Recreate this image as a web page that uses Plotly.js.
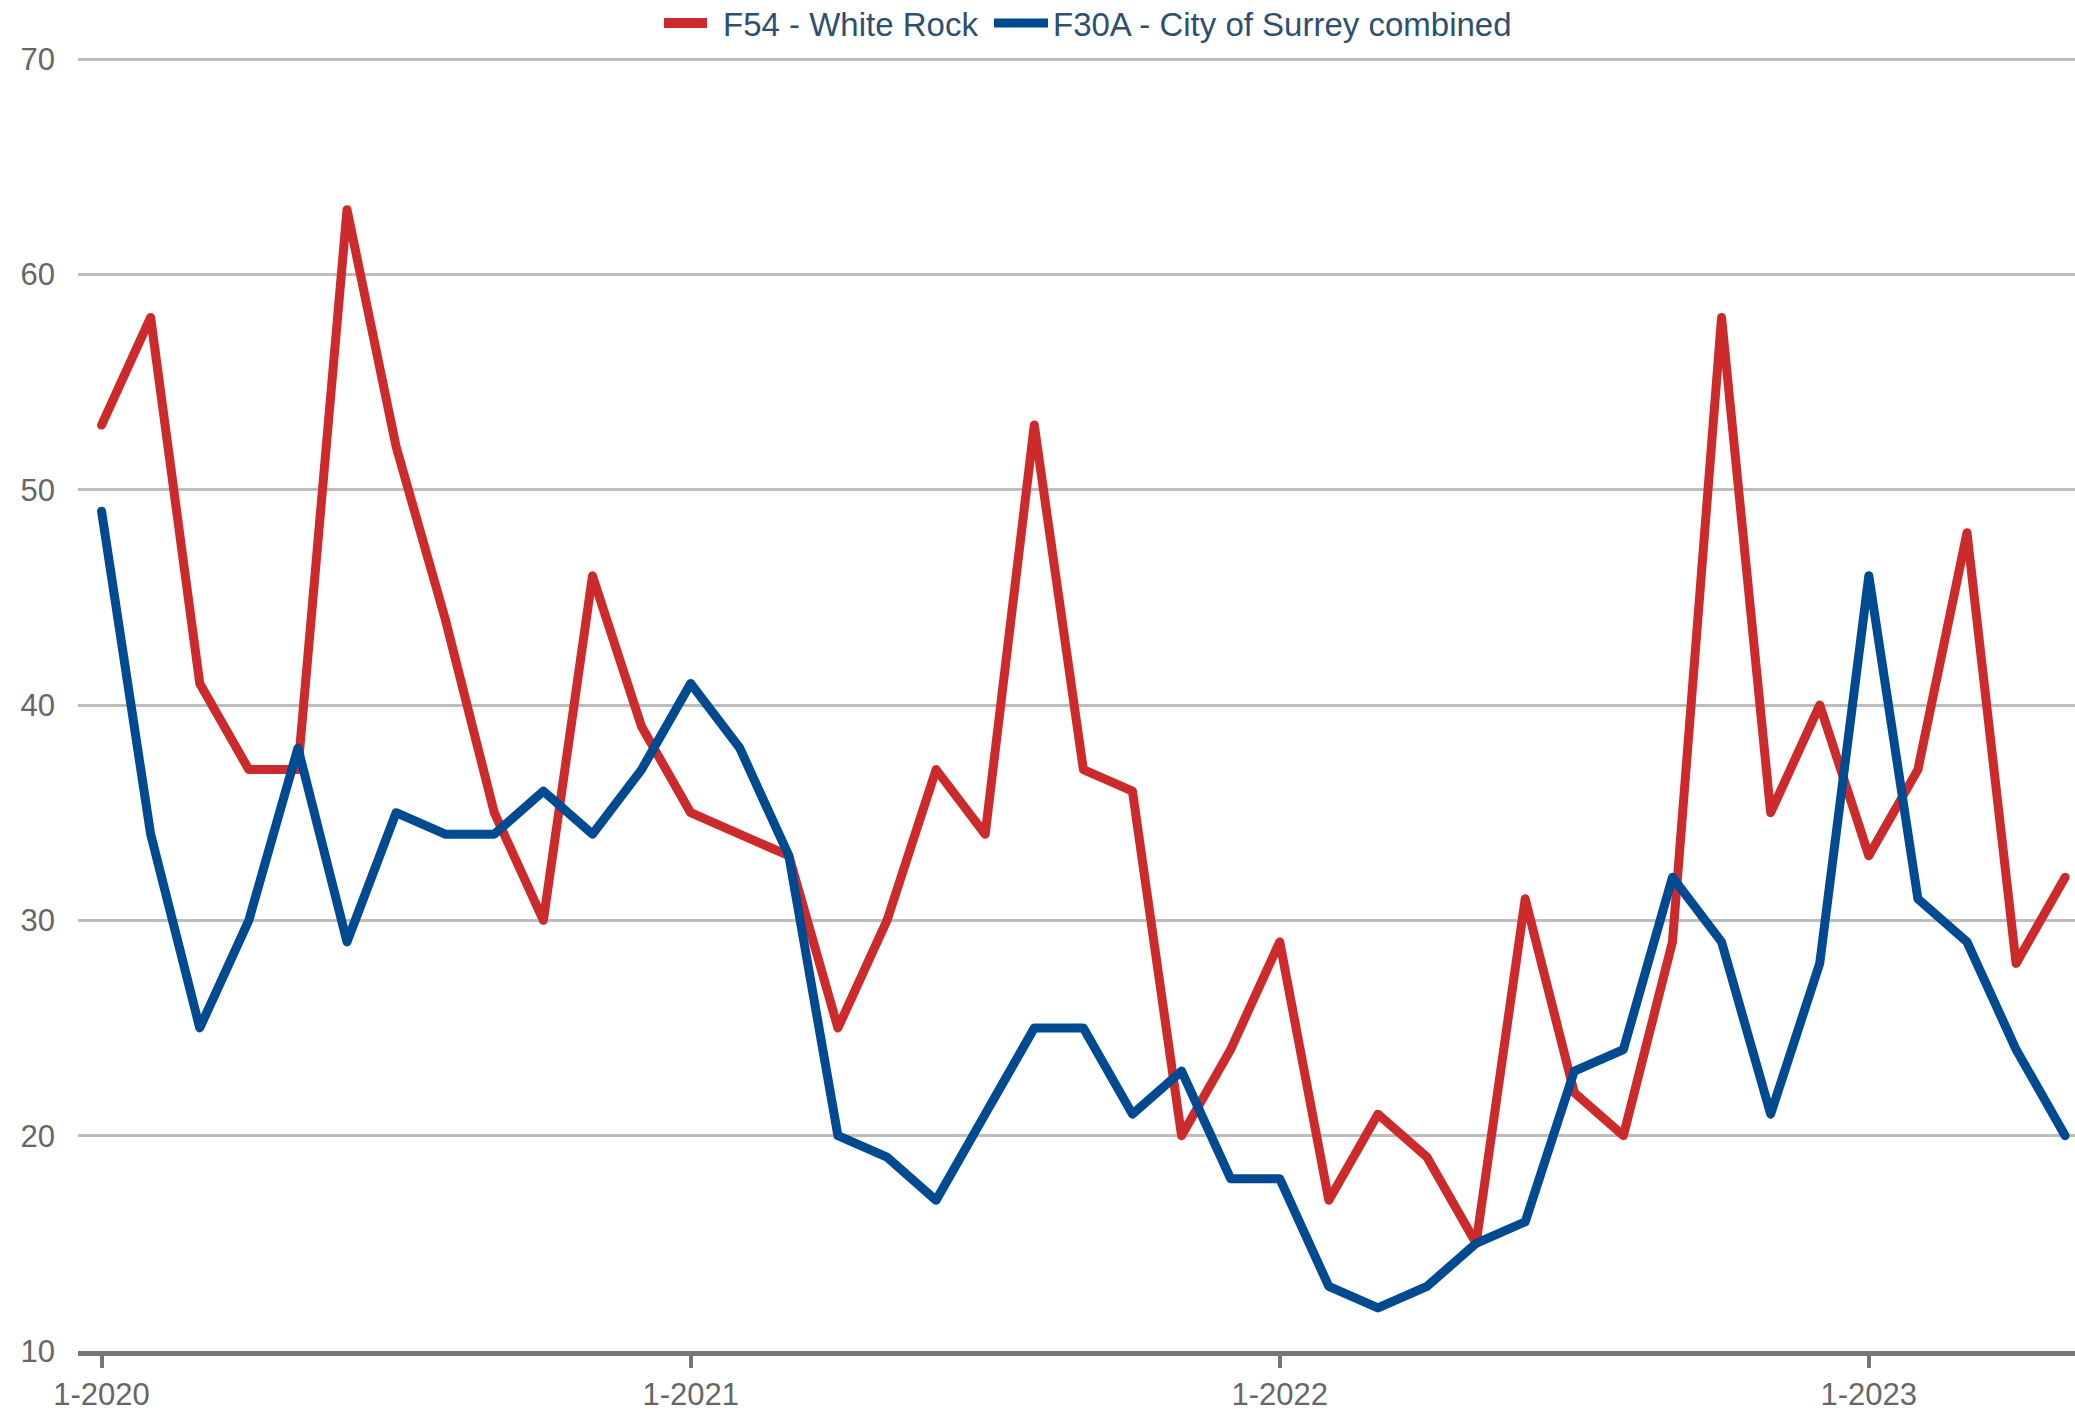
<!DOCTYPE html>
<html>
<head>
<meta charset="utf-8">
<script src="https://cdn.plot.ly/plotly-3.0.1.min.js"></script>
<style>
  html, body { margin: 0; padding: 0; background: #ffffff; }
  #chart { width: 2075px; height: 1409px; }
  #chart .scatterlayer path.js-line { stroke-linejoin: round !important; stroke-linecap: round !important; }
  #chart .legend .legendlines path { stroke-width: 10px !important; stroke-linecap: butt !important; stroke-dasharray: 43px 2000px !important; }
</style>
</head>
<body>
<div id="chart"></div>
<script>
// Month index 0 = Jan 2020 ... 40 = May 2023
const monthIndex = [0,1,2,3,4,5,6,7,8,9,10,11,12,13,14,15,16,17,18,19,20,21,22,23,24,25,26,27,28,29,30,31,32,33,34,35,36,37,38,39,40];

const whiteRock = [53,58,41,37,37,63,52,44,35,30,46,39,35,34,33,25,30,37,34,53,37,36,20,24,29,17,21,19,15,31,22,20,29,58,35,40,33,37,48,28,32];

const surrey = [49,34,25,30,38,29,35,34,34,36,34,37,41,38,33,20,19,17,21,25,25,21,23,18,18,13,12,13,15,16,23,24,32,29,21,28,46,31,29,24,20];

const tickPositions = [0, 12, 24, 36];
const tickLabels = ["1-2020", "1-2021", "1-2022", "1-2023"];
const yTicks = [10, 20, 30, 40, 50, 60, 70];

const traces = [
  {
    x: monthIndex, y: whiteRock, type: "scatter", mode: "lines",
    name: "F54 - White Rock", legend: "legend",
    line: { color: "#cc2a2b", width: 9, shape: "linear" },
    hoverinfo: "skip"
  },
  {
    x: monthIndex, y: surrey, type: "scatter", mode: "lines",
    name: "F30A - City of Surrey combined", legend: "legend2",
    line: { color: "#004a92", width: 9, shape: "linear" },
    hoverinfo: "skip"
  }
];

const legendCommon = {
  orientation: "h",
  xref: "container", xanchor: "left",
  yref: "container", y: 0.9837, yanchor: "middle",
  font: { size: 33, color: "#2f4f70" },
  itemwidth: 54, bgcolor: "rgba(0,0,0,0)"
};

const layout = {
  width: 2075, height: 1409,
  margin: { l: 78, r: 0, t: 56, b: 58, pad: 0, autoexpand: false },
  paper_bgcolor: "#ffffff", plot_bgcolor: "#ffffff",
  font: { family: "Liberation Sans, Arial, sans-serif", size: 30, color: "#666666" },
  showlegend: true,
  legend: Object.assign({}, legendCommon, { x: 659 / 2075 }),
  legend2: Object.assign({}, legendCommon, { x: 989 / 2075 }),
  xaxis: {
    range: [-0.48, 40.2],
    tickmode: "array", tickvals: tickPositions, ticktext: tickLabels,
    showgrid: false, zeroline: false,
    showline: true, linecolor: "#777777", linewidth: 5,
    ticks: "outside", ticklen: 12, tickwidth: 4, tickcolor: "#777777",
    tickfont: { size: 31, color: "#666666" },
    ticklabelstandoff: 0,
    fixedrange: true
  },
  yaxis: {
    range: [10, 70.14],
    tickmode: "array", tickvals: yTicks,
    showgrid: true, gridcolor: "#bdbdbd", gridwidth: 3,
    zeroline: false, showline: false, ticks: "",
    tickfont: { size: 31, color: "#666666" },
    ticklabelstandoff: 22,
    fixedrange: true
  }
};

Plotly.newPlot("chart", traces, layout, { displayModeBar: false, staticPlot: true });
</script>
</body>
</html>
